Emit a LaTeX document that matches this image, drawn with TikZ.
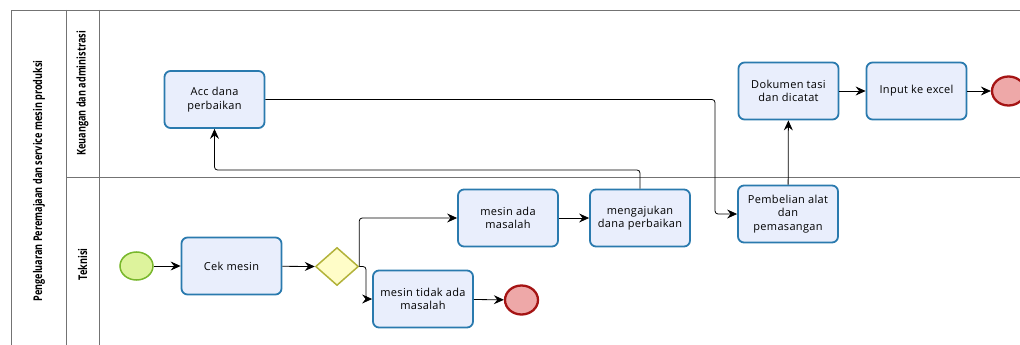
\documentclass[tikz,border=0pt]{standalone}
\usepackage{fontspec}
\setmainfont{Open Sans}[LetterSpace=3]
\newfontfamily\lanefont[FakeStretch=0.76]{Open Sans}
\usetikzlibrary{shapes.geometric,arrows.meta}
\definecolor{taskfill}{HTML}{E9EEFC}
\definecolor{taskdraw}{HTML}{2A7AAE}
\definecolor{startfill}{HTML}{DDF39C}
\definecolor{startdraw}{HTML}{78B72C}
\definecolor{endfill}{HTML}{EEA8A8}
\definecolor{enddraw}{HTML}{A51414}
\definecolor{gwfill}{HTML}{FFFDC8}
\definecolor{gwdraw}{HTML}{B2B23A}
\tikzset{
  task/.style={rectangle, rounded corners=6pt, draw=taskdraw, line width=1.8pt, fill=taskfill,
    minimum width=100pt, minimum height=57pt, align=center, inner sep=2pt,
    font=\fontsize{11}{13.3}\selectfont},
  startev/.style={ellipse, draw=startdraw, fill=startfill, line width=1.5pt, minimum width=33pt, minimum height=28pt, inner sep=0pt},
  endev/.style={ellipse, draw=enddraw, fill=endfill, line width=2.3pt, minimum width=33pt, minimum height=29pt, inner sep=0pt},
  gateway/.style={diamond, draw=gwdraw, fill=gwfill, line width=1.5pt, minimum width=43pt, minimum height=38pt, inner sep=0pt},
  flow/.style={line width=0.8pt, rounded corners=3pt, -{Stealth[length=10pt,width=9pt,inset=3.5pt]}},
  poolline/.style={draw=black!55, line width=0.9pt},
  lanelabel/.style={rotate=90, font=\lanefont\bfseries\fontsize{12}{14}\selectfont},
}
\begin{document}
\begin{tikzpicture}[x=1pt,y=-1pt]
\useasboundingbox (0,0) rectangle (1020,345);
\clip (0,0) rectangle (1020,345);
% pool and lanes
\draw[poolline] (11,360) -- (11,10) -- (1030,10);
\draw[poolline] (66,10) -- (66,360);
\draw[poolline] (99,10) -- (99,360);
\draw[poolline] (66,177) -- (1030,177);
\node[lanelabel] (pool) at (39,181) {Pengeluaran Peremajaan dan service mesin produksi};
\node[lanelabel] (lane1) at (82.5,93.5) {Keuangan dan administrasi};
\node[lanelabel] (lane2) at (82.5,264.5) {Teknisi};
% nodes
\node[startev] (start) at (136.5,266) {};
\node[task] (cek) at (231.5,266) {Cek mesin};
\node[gateway] (gw) at (337,266.5) {};
\node[task] (ada) at (508,218) {mesin ada\\masalah};
\node[task] (tidak) at (423,299) {mesin tidak ada\\masalah};
\node[endev] (end1) at (521.5,300) {};
\node[task] (ajukan) at (640,218) {mengajukan\\dana perbaikan};
\node[task] (acc) at (214.5,99.5) {Acc dana\\perbaikan};
\node[task] (beli) at (788,214) {Pembelian alat\\dan\\pemasangan};
\node[task] (dok) at (788.5,91) {Dokumen tasi\\dan dicatat};
\node[task] (input) at (916.5,91) {Input ke excel};
\node[endev] (end2) at (1008.5,91) {};
% connectors
\coordinate (gwdn) at (366,266.5);
\coordinate (accbend) at (715,99.5);
\coordinate (ajukanup) at (640,170);
\draw[flow] (start) -- (cek);
\draw[flow] (cek) -- (gw.west);
\draw[flow] (gw.east) |- (ada.west);
\draw[flow] (gw.east) -- (gwdn) |- (tidak.west);
\draw[flow] (tidak) -- (end1);
\draw[flow] (ada) -- (ajukan);
\draw[flow] (ajukan.north) -- (ajukanup) -| (acc.south);
\draw[flow] (acc.east) -- (accbend) |- (beli.west);
\draw[flow] (beli) -- (dok);
\draw[flow] (dok) -- (input);
\draw[flow] (input) -- (end2);
\end{tikzpicture}
\end{document}
